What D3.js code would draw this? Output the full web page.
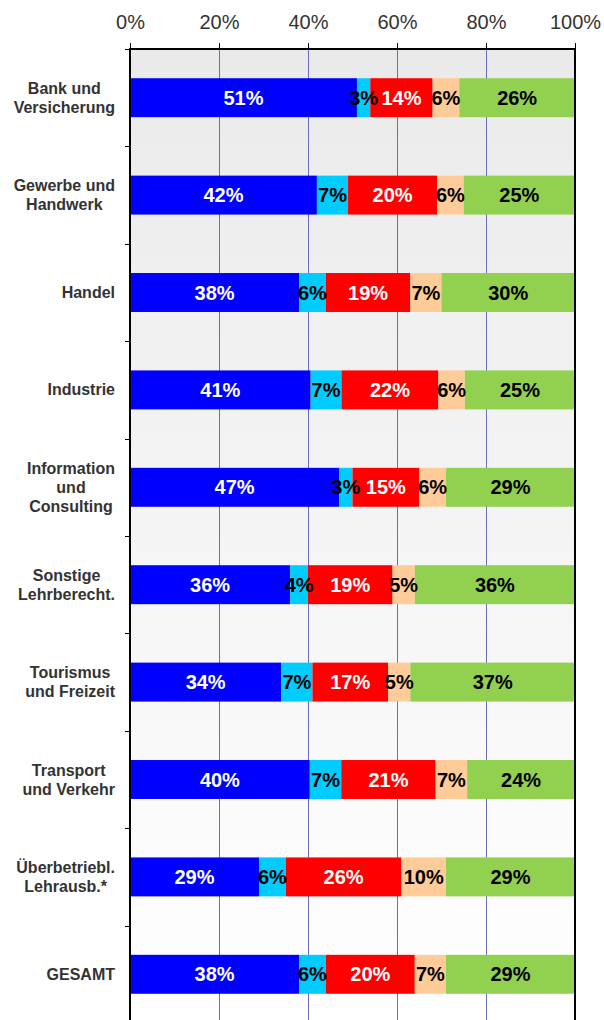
<!DOCTYPE html>
<html>
<head>
<meta charset="utf-8">
<script src="https://cdn.jsdelivr.net/npm/d3@7"></script>
<style>
  body { margin: 0; background: #fff; }
  svg { display: block; font-family: "Liberation Sans", Arial, sans-serif; }
</style>
</head>
<body>
<svg id="chart" width="604" height="1020"></svg>
<script>
// categories (line breaks as in the chart)
const categories = [
  ["Bank und", "Versicherung"],
  ["Gewerbe und", "Handwerk"],
  ["Handel"],
  ["Industrie"],
  ["Information", "und", "Consulting"],
  ["Sonstige", "Lehrberecht."],
  ["Tourismus", "und Freizeit"],
  ["Transport", "und Verkehr"],
  ["Überbetriebl.", "Lehrausb.*"],
  ["GESAMT"]
]

// series values, in %
const blueVals  = [51, 42, 38, 41, 47, 36, 34, 40, 29, 38]
const cyanVals  = [3, 7, 6, 7, 3, 4, 7, 7, 6, 6]
const redVals   = [14, 20, 19, 22, 15, 19, 17, 21, 26, 20]
const peachVals = [6, 6, 7, 6, 6, 5, 5, 7, 10, 7]
const greenVals = [26, 25, 30, 25, 29, 36, 37, 24, 29, 29]

const xTicks = [0, 0.2, 0.4, 0.6, 0.8, 1]

const keys = ["blue", "cyan", "red", "peach", "green"]
const colors = { blue: "#0000ff", cyan: "#00ccff", red: "#ff0000", peach: "#ffcc99", green: "#92d050" }
const labelColor = { blue: "#fff", cyan: "#000", red: "#fff", peach: "#000", green: "#000" }

let rows = categories.map((c, i) => ({
  name: c.join(" "),
  lines: c,
  blue: blueVals[i],
  cyan: cyanVals[i],
  red: redVals[i],
  peach: peachVals[i],
  green: greenVals[i]
}))

let stacked = d3.stack().keys(keys).offset(d3.stackOffsetExpand)(rows)

const plotL = 130, plotR = 575, plotT = 49, plotB = 1023

let svg = d3.select("#chart")

let x = d3.scaleLinear().domain([0, 1]).range([plotL, plotR])
let y = d3.scaleBand()
  .domain(rows.map(d => d.name))
  .range([plotT, plotB])
  .paddingInner(0.6)
  .paddingOuter(0.3)

// plot background gradient
let grad = svg.append("defs").append("linearGradient")
  .attr("id", "bg")
  .attr("x1", 0).attr("y1", 0).attr("x2", 0).attr("y2", 1)
grad.append("stop").attr("offset", "0%").attr("stop-color", "#eaeaea")
grad.append("stop").attr("offset", "100%").attr("stop-color", "#ffffff")

svg.append("rect")
  .attr("x", plotL).attr("y", plotT)
  .attr("width", plotR - plotL).attr("height", plotB - plotT)
  .attr("fill", "url(#bg)")

// grid lines
svg.append("g").selectAll("line")
  .data(xTicks.slice(1, -1))
  .enter().append("line")
    .attr("x1", d => Math.round(x(d)) + 0.5).attr("x2", d => Math.round(x(d)) + 0.5)
    .attr("y1", plotT).attr("y2", plotB)
    .attr("stroke", "#6b6bc0")
    .attr("stroke-width", 1)

// bars
let layers = svg.append("g").selectAll("g")
  .data(stacked)
  .enter().append("g")
    .attr("fill", d => colors[d.key])

layers.selectAll("rect")
  .data(d => d)
  .enter().append("rect")
    .attr("x", d => x(d[0]))
    .attr("y", d => y(d.data.name))
    .attr("width", d => x(d[1]) - x(d[0]))
    .attr("height", y.bandwidth())

// value labels
stacked.forEach(layer => {
  svg.append("g").selectAll("text")
    .data(layer)
    .enter().append("text")
      .attr("x", d => (x(d[0]) + x(d[1])) / 2)
      .attr("y", d => y(d.data.name) + y.bandwidth() / 2 + 7)
      .attr("text-anchor", "middle")
      .attr("font-size", 20)
      .attr("font-weight", "bold")
      .attr("fill", labelColor[layer.key])
      .text(d => d.data[layer.key] + "%")
})

// top axis
let xAxis = d3.axisTop(x)
  .tickValues(xTicks)
  .tickFormat(d3.format(".0%"))
  .tickSize(6)
  .tickPadding(14)
let gx = svg.append("g")
  .attr("transform", `translate(0,${plotT})`)
  .call(xAxis)
gx.select(".domain").remove()
gx.selectAll("line").attr("stroke", "#000")
gx.selectAll("text")
  .attr("font-size", 20)
  .attr("font-family", "Liberation Sans, Arial, sans-serif")
  .attr("fill", "#333")

// left axis ticks at category boundaries
let bounds = d3.range(rows.length + 1).map(i => Math.round(plotT + i * y.step()) + 0.5)
svg.append("g").selectAll("line")
  .data(bounds)
  .enter().append("line")
    .attr("x1", plotL - 5).attr("x2", plotL)
    .attr("y1", d => d).attr("y2", d => d)
    .attr("stroke", "#000")

// frame
svg.append("rect")
  .attr("x", plotL).attr("y", plotT)
  .attr("width", plotR - plotL).attr("height", plotB - plotT)
  .attr("fill", "none")
  .attr("stroke", "#000")
  .attr("stroke-width", 2)

// category labels
let labels = svg.append("g").selectAll("g")
  .data(rows)
  .enter().append("g")

labels.each(function(d) {
  let g = d3.select(this)
  let cy = y(d.name) + y.bandwidth() / 2
  let lh = 19
  let texts = g.selectAll("text")
    .data(d.lines)
    .enter().append("text")
      .attr("y", (t, i) => cy + (i - (d.lines.length - 1) / 2) * lh + 5.5)
      .attr("text-anchor", "middle")
      .attr("font-size", 16)
      .attr("font-weight", "bold")
      .attr("fill", "#333")
      .text(t => t)
  let w = d3.max(texts.nodes(), n => n.getComputedTextLength())
  texts.attr("x", 115 - w / 2)
})
</script>
</body>
</html>
